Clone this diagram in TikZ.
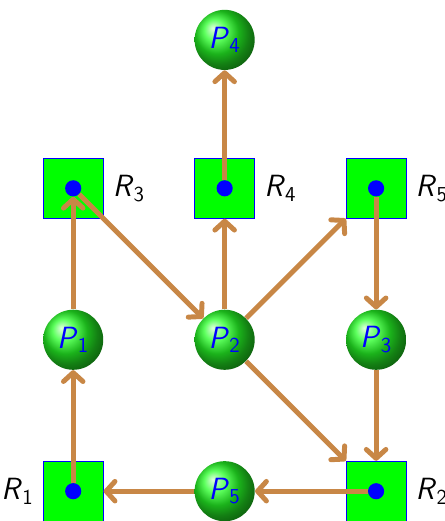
\documentclass[tikz,border=0pt]{standalone}
\usepackage{tikz}
\usetikzlibrary{arrows.meta}
\definecolor{flowbrown}{RGB}{200,135,70}
\definecolor{resgreen}{RGB}{0,255,0}

\begin{document}
\begin{tikzpicture}[
      proc/.style={circle, shading=ball, ball color=green!85!white,
                   minimum size=1.19cm, inner sep=0pt,
                   font=\LARGE\sffamily, text=blue},
      res/.style={draw=blue, fill=resgreen,
                  minimum size=1.19cm, inner sep=0pt},
      tok/.style={circle, fill=blue, minimum size=0.32cm, inner sep=0pt},
      rlbl/.style={font=\LARGE\sffamily, text=black, inner sep=1pt},
      flow/.style={draw=flowbrown, line width=2.8pt,
                   -{Straight Barb[length=5pt,width=11pt,round]}},
    ]
    \useasboundingbox (0,0) rectangle (8.81,10.32);
    \def\sz{3}
    %% resources
    \node[res] (R1) at (1.45, 0.59) {};
    \node[res] (R2) at (1.45+2*\sz, 0.59) {};
    \node[res] (R3) at (1.45, 0.59+2*\sz) {};
    \node[res] (R4) at (1.45+\sz, 0.59+2*\sz) {};
    \node[res] (R5) at (1.45+2*\sz, 0.59+2*\sz) {};
    \foreach \r in {1,...,5}{
        \node[tok] (T\r) at (R\r) {};
      }
    %% processes
    \node[proc] (P1) at (1.45, 0.59+\sz) {\textit{P}\textsubscript{1}};
    \node[proc] (P2) at (1.45+\sz, 0.59+\sz) {\textit{P}\textsubscript{2}};
    \node[proc] (P3) at (1.45+2*\sz, 0.59+\sz) {\textit{P}\textsubscript{3}};
    \node[proc] (P4) at (1.45+\sz, 0.59+2.98*\sz) {\textit{P}\textsubscript{4}};
    \node[proc] (P5) at (1.45+\sz, 0.59) {\textit{P}\textsubscript{5}};
    %% resource labels
    \node[rlbl, anchor=east] (L1) at ([xshift=-4pt]R1.west) {\textit{R}\textsubscript{1}};
    \node[rlbl, anchor=west] (L2) at ([xshift=4pt]R2.east) {\textit{R}\textsubscript{2}};
    \node[rlbl, anchor=west] (L3) at ([xshift=4pt]R3.east) {\textit{R}\textsubscript{3}};
    \node[rlbl, anchor=west] (L4) at ([xshift=4pt]R4.east) {\textit{R}\textsubscript{4}};
    \node[rlbl, anchor=west] (L5) at ([xshift=4pt]R5.east) {\textit{R}\textsubscript{5}};
    %% arrows
    \draw[flow] (T1) -- (P1);
    \draw[flow] (P1) -- (T3);
    \draw[flow] (T3) -- (P2);
    \draw[flow] (P2) -- (R4);
    \draw[flow] (T4) -- (P4);
    \draw[flow] (P2) -- (R5);
    \draw[flow] (T5) -- (P3);
    \draw[flow] (P2) -- (R2);
    \draw[flow] (P3) -- (R2);
    \draw[flow] (T2) -- (P5);
    \draw[flow] (P5) -- (R1);
    \end{tikzpicture}
\end{document}
